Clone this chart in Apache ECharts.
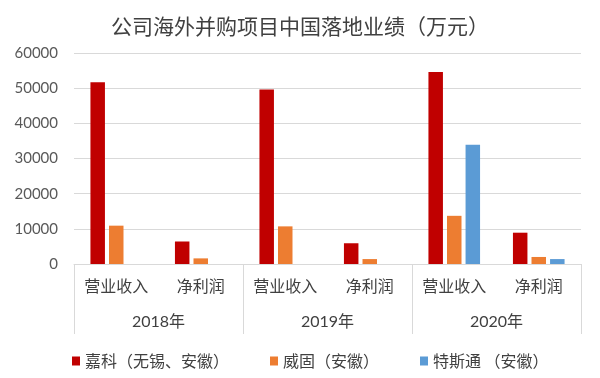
<!DOCTYPE html>
<html>
<head>
<meta charset="utf-8">
<script src="https://cdn.jsdelivr.net/npm/echarts@6/dist/echarts.min.js"></script>
<style>
    html, body { margin: 0; padding: 0; background: #fff; }
    #chart1 { width: 600px; height: 378px; }
</style>
</head>
<body>
<div id="chart1"></div>
<script>
// 数据
var subCategories = ['营业收入', '净利润', '营业收入', '净利润', '营业收入', '净利润'];
var years = ['2018年', '2019年', '2020年'];
var seriesNames = ['嘉科（无锡、安徽）', '威固（安徽）', '特斯通 （安徽）'];
var jiakeData = [51700, 6400, 49600, 5900, 54600, 8900];
var weiguData = [10900, 1600, 10700, 1400, 13700, 2000];
var tesitongData = [null, null, null, null, 33900, 1400];
var yTicks = [0, 10000, 20000, 30000, 40000, 50000, 60000];

var chart1 = echarts.init(document.getElementById('chart1'));
var cjk = 'Noto Sans CJK SC';
var lineColor = '#d9d9d9';

var option = {
    animation: false,
    title: {
        text: '公司海外并购项目中国落地业绩（万元）',
        left: 'center',
        top: 16,
        padding: 0,
        textStyle: {
            fontFamily: cjk,
            fontSize: 21,
            fontWeight: 'normal',
            color: '#404040'
        }
    },
    legend: {
        data: seriesNames,
        left: 67,
        top: 348,
        itemWidth: 8,
        itemHeight: 9,
        itemGap: 41,
        icon: 'rect',
        textStyle: {
            fontFamily: cjk,
            fontSize: 16,
            color: '#404040'
        }
    },
    grid: {
        left: 74,
        right: 19,
        top: 53,
        bottom: 114
    },
    xAxis: [{
        type: 'category',
        data: subCategories,
        position: 'bottom',
        axisLine: { show: true, lineStyle: { color: lineColor, width: 1 } },
        axisTick: { show: false },
        axisLabel: {
            interval: 0,
            margin: 14,
            fontFamily: cjk,
            fontSize: 16,
            color: '#404040'
        }
    }, {
        type: 'category',
        data: years,
        position: 'bottom',
        offset: 0,
        axisLine: { show: false },
        axisTick: {
            show: true,
            interval: 0,
            length: 70,
            lineStyle: { color: lineColor, width: 1 }
        },
        axisLabel: {
            interval: 0,
            margin: 50,
            fontFamily: 'Lato, ' + cjk,
            fontSize: 16,
            color: '#404040'
        }
    }],
    yAxis: {
        type: 'value',
        min: yTicks[0],
        max: yTicks[yTicks.length - 1],
        interval: 10000,
        axisLine: { show: false },
        axisTick: { show: false },
        splitLine: { lineStyle: { color: lineColor, width: 1 } },
        axisLabel: {
            margin: 16,
            fontFamily: 'Lato',
            fontSize: 15,
            color: '#595959',
            formatter: function (v) {
                return String(v);
            }
        }
    },
    series: [{
        name: seriesNames[0],
        type: 'bar',
        xAxisIndex: 0,
        data: jiakeData,
        barWidth: 14.5,
        barGap: '28%',
        itemStyle: { color: '#c00000' }
    }, {
        name: seriesNames[1],
        type: 'bar',
        xAxisIndex: 0,
        data: weiguData,
        barWidth: 14.5,
        barGap: '28%',
        itemStyle: { color: '#ed7d31' }
    }, {
        name: seriesNames[2],
        type: 'bar',
        xAxisIndex: 0,
        data: tesitongData,
        barWidth: 14.5,
        barGap: '28%',
        itemStyle: { color: '#5b9bd5' }
    }]
};
chart1.setOption(option);
</script>
</body>
</html>
